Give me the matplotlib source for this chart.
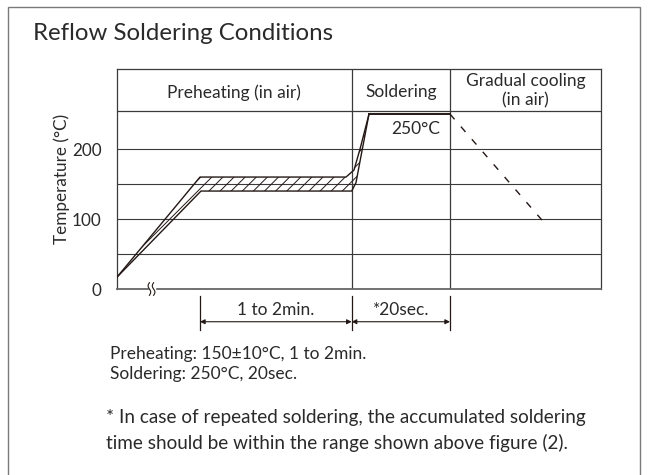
import numpy as np
import matplotlib
matplotlib.use("Agg")
import matplotlib.pyplot as plt
import matplotlib.transforms as mtransforms
from matplotlib.patches import Rectangle, Polygon

# ==================================
# CONFIG
# ==================================
plt.rcParams["font.family"] = ["Lato", "DejaVu Sans"]
plt.rcParams["hatch.linewidth"] = 0.7

INK = "#231815"
TEXT = "#2a2a2a"
GRID = "#3a3a3a"
FRAME = "#7a7a7a"

# ==================================
# DATA (time axis in arbitrary units, temperature in degC)
# ==================================
Y_TICKS = [0, 100, 200]
GRID_TEMPS = [50, 100, 150, 200]
HEADER_TEMP = 255
Y_TOP = 314
X_END = 484

ZONE_EDGES = [234.7, 333]
ZONE_NAMES = ["Preheating (in air)", "Soldering", "Gradual cooling\n(in air)"]

# preheat band: upper edge (160) and lower edge (140)
upper_t = [0, 83, 229, 237, 243, 252]
upper_T = [17, 160, 160, 170, 200, 250]
lower_t = [0, 84, 234.7, 239, 244, 252]
lower_T = [17, 140, 140, 152, 190, 250]

# soldering plateau and cooling
peak_t = [252, 333]
peak_T = [250, 250]
cool_t = [333, 430.7]
cool_T = [250, 89]

DIM_T = [83, 234.7, 333]
DIM_LABELS = ["1 to 2min.", "*20sec."]

NOTES = ["Preheating: 150\u00b110\u00b0C, 1 to 2min.",
         "Soldering: 250\u00b0C, 20sec."]
FOOTNOTE = ["* In case of repeated soldering, the accumulated soldering",
            "time should be within the range shown above figure (2)."]

# ==================================
# FIGURE
# ==================================
fig = plt.figure(figsize=(6.53, 4.75), dpi=100)
fig.patch.set_facecolor("white")

# outer panel frame (open at the bottom)
fig.patches.append(Rectangle((8 / 653, -0.05), 632 / 653, 1.035,
                             transform=fig.transFigure, fill=False,
                             edgecolor=FRAME, lw=1.0))

fig.text(33 / 653, 1 - 34 / 475, "Reflow Soldering Conditions",
         fontsize=17.3, color=TEXT, va="center", ha="left")

ax = fig.add_axes([117 / 653, 1 - 289 / 475, 484 / 653, 219.7 / 475])
ax.set_xlim(0, X_END)
ax.set_ylim(0, Y_TOP)

for s in ax.spines.values():
    s.set_color(GRID)
    s.set_linewidth(0.9)
ax.spines["bottom"].set_color("#666666")
ax.spines["bottom"].set_linewidth(1.3)

ax.set_xticks([])
ax.set_yticks(Y_TICKS)
ax.set_yticklabels([str(v) for v in Y_TICKS])
ax.tick_params(axis="y", length=0, pad=11, labelsize=12.3, labelcolor=TEXT)
ax.set_ylabel("Temperature (\u00b0C)", fontsize=12.3, color=TEXT)
ax.yaxis.set_label_coords(-0.097, 0.5)

# grid + header rows
for g in GRID_TEMPS:
    ax.axhline(g, color=GRID, lw=0.8, zorder=1)
ax.axhline(HEADER_TEMP, color=GRID, lw=0.9, zorder=1)
for x in ZONE_EDGES:
    ax.axvline(x, color=GRID, lw=0.9, zorder=1)

# zone titles
bounds = [0] + ZONE_EDGES + [X_END]
header_y = [281, 281, 283.5]
for i, name in enumerate(ZONE_NAMES):
    ax.text((bounds[i] + bounds[i + 1]) / 2, header_y[i], name,
            ha="center", va="center", fontsize=12.5, color=TEXT,
            linespacing=1.2)

# hatched preheat band
band = list(zip(upper_t, upper_T)) + list(zip(lower_t, lower_T))[::-1]
ax.add_patch(Polygon(band, closed=True, facecolor="none", edgecolor=INK,
                     hatch="///", lw=0, zorder=2))
ax.plot(upper_t, upper_T, color=INK, lw=1.0, zorder=3)
ax.plot(lower_t, lower_T, color=INK, lw=1.0, zorder=3)

ax.plot(peak_t, peak_T, color=INK, lw=1.4, zorder=3)
ax.plot(cool_t, cool_T, color=INK, lw=1.0, ls=(0, (5, 7)), zorder=3)
ax.text(sum(peak_t) / 2 + 6, 228, "250\u00b0C", ha="center", va="center",
        fontsize=12.5, color=TEXT)

# axis break mark
tb = np.linspace(-1, 1, 30)
ax.fill_between([32, 37.5], -6, 6, color="white", clip_on=False, zorder=4)
for x0 in [32.4, 36.6]:
    ax.plot(x0 - 1.3 * np.sin(tb * np.pi), tb * 9, color=INK, lw=0.8,
            clip_on=False, zorder=5)

# dimension lines below the axis
trans = mtransforms.blended_transform_factory(ax.transData, ax.transAxes)
for x in DIM_T:
    ax.plot([x, x], [-0.032, -0.187], color=INK, lw=0.9, transform=trans,
            clip_on=False)
for i, lab in enumerate(DIM_LABELS):
    ax.annotate("", xy=(DIM_T[i + 1], -0.149), xytext=(DIM_T[i], -0.149),
                xycoords=trans, textcoords=trans,
                arrowprops=dict(arrowstyle="<|-|>", color=INK, lw=0.8,
                                mutation_scale=7, shrinkA=0, shrinkB=0))
    ax.text((DIM_T[i] + DIM_T[i + 1]) / 2, -0.095, lab, transform=trans,
            ha="center", va="center", fontsize=12.5, color=TEXT)

# notes
fig.text(110 / 653, 1 - 354 / 475, NOTES[0], fontsize=12.5, color=TEXT,
         va="center")
fig.text(110 / 653, 1 - 374 / 475, NOTES[1], fontsize=12.5, color=TEXT,
         va="center")
fig.text(106 / 653, 1 - 418 / 475, FOOTNOTE[0], fontsize=13.6, color=TEXT,
         va="center")
fig.text(106 / 653, 1 - 443 / 475, FOOTNOTE[1], fontsize=13.6, color=TEXT,
         va="center")

fig.savefig("out.png", dpi=100)
